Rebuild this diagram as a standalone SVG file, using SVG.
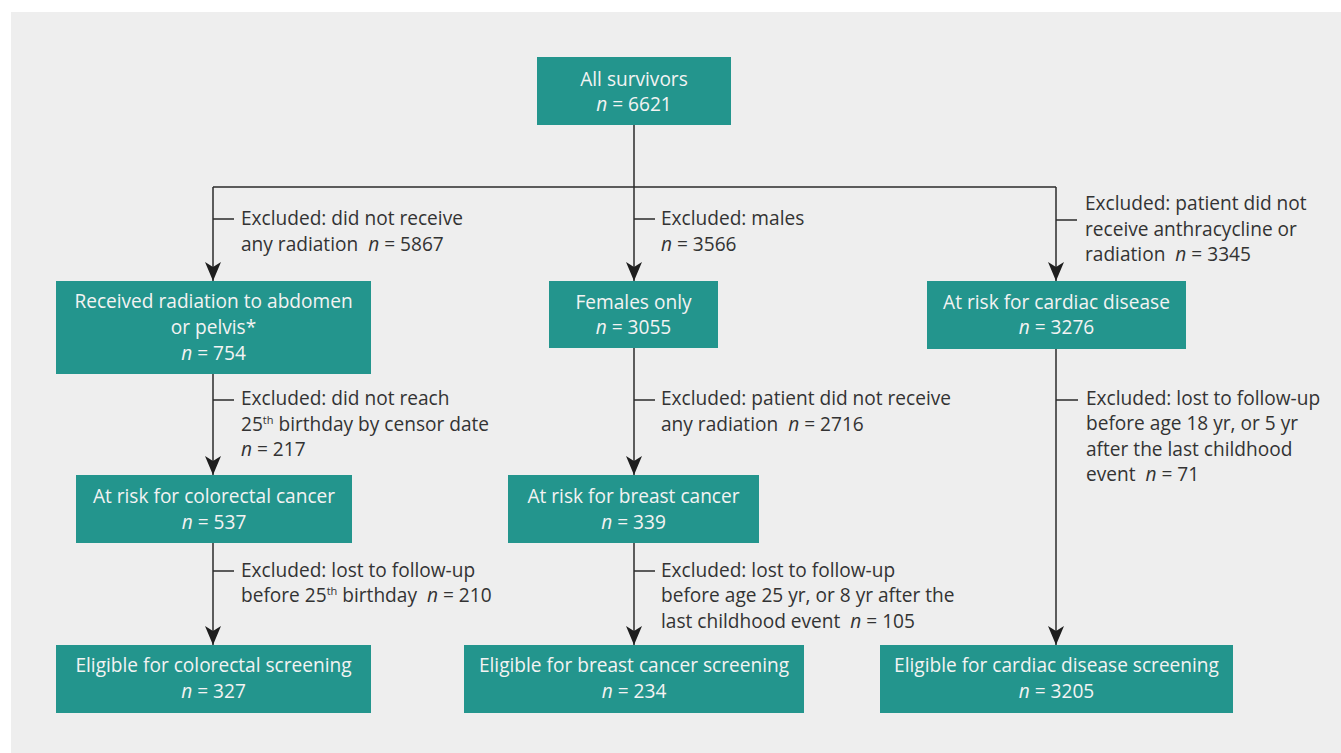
<svg xmlns="http://www.w3.org/2000/svg" width="1341" height="753" viewBox="0 0 1341 753">
<style>
.box{fill:#23958d;}
.bt{font-family:"Open Sans","Noto Sans",sans-serif;font-size:19.1px;fill:#f3f3f3;text-anchor:middle;}
.et{font-family:"Open Sans","Noto Sans",sans-serif;font-size:19.1px;fill:#333333;}
.ln{stroke:#2b2b2b;stroke-width:1.5;fill:none;}
.it{font-style:italic;}
</style>
<defs>
<marker id="arr" viewBox="0 0 19 16" refX="19" refY="8" markerWidth="19" markerHeight="16" markerUnits="userSpaceOnUse" orient="auto">
<path d="M0,0 L19,8 L0,16 L5,8 z" fill="#1e1e1e"/>
</marker>
</defs>
<rect x="11" y="12" width="1330" height="741" fill="#eeeeee"/>
<g id="connectors">
<path class="ln" d="M634,125 V187 M213,187 H1056"/>
<path class="ln" d="M213,187 V281" marker-end="url(#arr)"/>
<path class="ln" d="M634,187 V281" marker-end="url(#arr)"/>
<path class="ln" d="M1056,187 V281" marker-end="url(#arr)"/>
<path class="ln" d="M213,374 V475" marker-end="url(#arr)"/>
<path class="ln" d="M213,543 V645" marker-end="url(#arr)"/>
<path class="ln" d="M634,348 V475" marker-end="url(#arr)"/>
<path class="ln" d="M634,543 V645" marker-end="url(#arr)"/>
<path class="ln" d="M1056,349 V645" marker-end="url(#arr)"/>
<path class="ln" d="M213,219 H234 M634,219 H655 M1056,220 H1077 M213,400 H234 M634,400 H655 M1056,400 H1078 M213,571 H234 M634,571 H655"/>
</g>
<g id="all">
<rect class="box" x="537" y="57" width="194" height="68"/>
<text class="bt" x="634" y="86">All survivors</text>
<text class="bt" x="634" y="111"><tspan class="it">n</tspan> = 6621</text>
</g>
<g id="radiation">
<rect class="box" x="56" y="281" width="315" height="93"/>
<text class="bt" x="213.5" y="308">Received radiation to abdomen</text>
<text class="bt" x="213.5" y="334">or pelvis*</text>
<text class="bt" x="213.5" y="360"><tspan class="it">n</tspan> = 754</text>
</g>
<g id="females">
<rect class="box" x="549" y="281" width="169" height="67"/>
<text class="bt" x="633.5" y="309">Females only</text>
<text class="bt" x="633.5" y="334"><tspan class="it">n</tspan> = 3055</text>
</g>
<g id="cardiac">
<rect class="box" x="927" y="281" width="259" height="68"/>
<text class="bt" x="1056.5" y="309">At risk for cardiac disease</text>
<text class="bt" x="1056.5" y="334"><tspan class="it">n</tspan> = 3276</text>
</g>
<g id="colorectal">
<rect class="box" x="76" y="475" width="276" height="68"/>
<text class="bt" x="214" y="503">At risk for colorectal cancer</text>
<text class="bt" x="214" y="529"><tspan class="it">n</tspan> = 537</text>
</g>
<g id="breast">
<rect class="box" x="508" y="475" width="251" height="68"/>
<text class="bt" x="633.5" y="503">At risk for breast cancer</text>
<text class="bt" x="633.5" y="529"><tspan class="it">n</tspan> = 339</text>
</g>
<g id="elig-colorectal">
<rect class="box" x="56" y="645" width="315" height="68"/>
<text class="bt" x="213.5" y="672">Eligible for colorectal screening</text>
<text class="bt" x="213.5" y="698"><tspan class="it">n</tspan> = 327</text>
</g>
<g id="elig-breast">
<rect class="box" x="464" y="645" width="340" height="68"/>
<text class="bt" x="634" y="672">Eligible for breast cancer screening</text>
<text class="bt" x="634" y="698"><tspan class="it">n</tspan> = 234</text>
</g>
<g id="elig-cardiac">
<rect class="box" x="880" y="645" width="353" height="68"/>
<text class="bt" x="1056.5" y="672">Eligible for cardiac disease screening</text>
<text class="bt" x="1056.5" y="698"><tspan class="it">n</tspan> = 3205</text>
</g>
<g id="exclusions">
<text class="et" x="241" y="225">Excluded: did not receive</text>
<text class="et" x="241" y="251">any radiation<tspan class="it" dx="10">n</tspan> = 5867</text>
<text class="et" x="661" y="225">Excluded: males</text>
<text class="et" x="661" y="251"><tspan class="it">n</tspan> = 3566</text>
<text class="et" x="1085" y="210">Excluded: patient did not</text>
<text class="et" x="1085" y="236">receive anthracycline or</text>
<text class="et" x="1085" y="261">radiation<tspan class="it" dx="10">n</tspan> = 3345</text>
<text class="et" x="241" y="405">Excluded: did not reach</text>
<text class="et" x="241" y="431">25<tspan font-size="11" dy="-7">th</tspan><tspan dy="7"> birthday by censor date</tspan></text>
<text class="et" x="241" y="456"><tspan class="it">n</tspan> = 217</text>
<text class="et" x="661" y="405">Excluded: patient did not receive</text>
<text class="et" x="661" y="431">any radiation<tspan class="it" dx="10">n</tspan> = 2716</text>
<text class="et" x="1086" y="405">Excluded: lost to follow-up</text>
<text class="et" x="1086" y="430">before age 18 yr, or 5 yr</text>
<text class="et" x="1086" y="456">after the last childhood</text>
<text class="et" x="1086" y="481">event<tspan class="it" dx="10">n</tspan> = 71</text>
<text class="et" x="241" y="577">Excluded: lost to follow-up</text>
<text class="et" x="241" y="602">before 25<tspan font-size="11" dy="-7">th</tspan><tspan dy="7"> birthday</tspan><tspan class="it" dx="10">n</tspan> = 210</text>
<text class="et" x="661" y="577">Excluded: lost to follow-up</text>
<text class="et" x="661" y="602">before age 25 yr, or 8 yr after the</text>
<text class="et" x="661" y="628">last childhood event<tspan class="it" dx="10">n</tspan> = 105</text>
</g>
</svg>
